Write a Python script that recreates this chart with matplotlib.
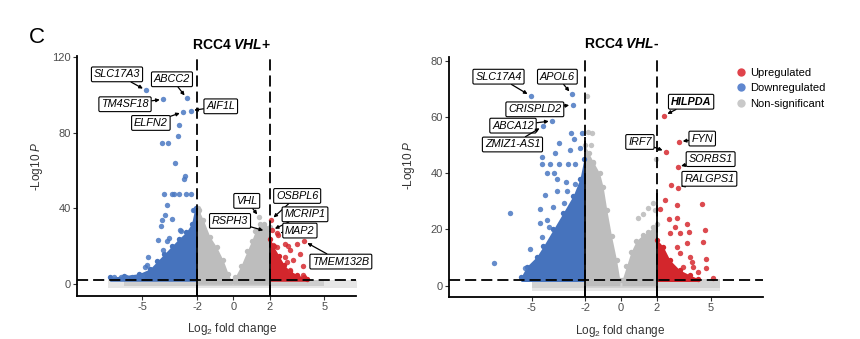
import matplotlib
matplotlib.use("Agg")
import matplotlib.pyplot as plt
from matplotlib.lines import Line2D

plt.rcParams['font.family'] = ['Liberation Sans', 'DejaVu Sans']
plt.rcParams['mathtext.fontset'] = 'custom'
plt.rcParams['mathtext.rm'] = 'Liberation Sans'
plt.rcParams['mathtext.it'] = 'Liberation Sans:italic'
plt.rcParams['mathtext.bf'] = 'Liberation Sans:bold'
plt.rcParams['mathtext.bfit'] = 'Liberation Sans:italic:bold'
plt.rcParams['lines.scale_dashes'] = False
plt.rcParams['axes.unicode_minus'] = False

# ---------------- data: RCC4 VHL+ ----------------
p_blue_x = [-4.81, -3.86, -2.57, -2.35, -2.77, -2.99, -3.03, -3.91, -3.58, -3.21, -2.66, -2.70,
            -3.80, -3.40, -3.25, -2.99, -2.63, -2.34, -3.67, -2.21, -3.76, -3.40, -3.95, -3.98,
            -2.88, -2.94, -3.53, -3.64, -4.13, -4.68, -4.77, -3.86, -4.86,
            -6.55, -6.20, -5.90, -5.60, -5.30, -5.00]
p_blue_y = [102.5, 97.7, 98.3, 91.7, 91.0, 84.0, 78.4, 74.6, 74.6, 63.8, 57.4, 55.6,
            47.7, 47.7, 47.7, 47.7, 47.7, 47.7, 41.6, 39.0, 36.3, 34.2, 33.7, 30.5,
            27.9, 28.4, 24.6, 22.6, 23.2, 14.4, 10.0, 17.9, 9.1,
            3.8, 3.6, 3.9, 3.7, 4.0, 4.3]
p_red_x = [2.06, 2.10, 2.41, 2.46, 2.19, 2.41, 2.83, 3.47, 3.10, 3.65, 2.83, 3.29, 2.92,
           3.84, 3.10, 3.80, 3.89, 3.00]
p_red_y = [34.0, 28.5, 27.0, 25.8, 20.5, 19.6, 21.4, 21.4, 17.9, 16.1, 14.4, 12.6, 11.7,
           9.5, 7.4, 4.7, 22.6, 20.0]
p_gray_x = [1.42, 1.82, -1.97, -1.93]
p_gray_y = [35.4, 27.9, 40.0, 38.0]
p_blue_env_x = [-6.8, -6.0, -5.2, -4.6, -4.2, -3.8, -3.4, -3.0, -2.6, -2.3, -2.15, -2.05]
p_blue_env_y = [3.5, 4.5, 5.5, 8.0, 12.0, 16.0, 20.0, 24.0, 27.5, 32.0, 39.0, 40.0]
p_red_env_x = [2.02, 2.2, 2.5, 2.8, 3.1, 3.5, 3.9, 4.05]
p_red_env_y = [24.0, 20.0, 15.0, 10.0, 7.0, 5.0, 3.5, 2.5]
p_grayL_env_x = [-2.02, -1.9, -1.66, -1.29, -0.92, -0.56, -0.29, -0.1]
p_grayL_env_y = [40.0, 39.0, 34.0, 25.0, 19.5, 12.5, 5.5, 1.5]
p_grayR_env_x = [0.0, 0.1, 0.4, 0.75, 1.0, 1.2, 1.45, 1.7, 1.98]
p_grayR_env_y = [1.5, 4.0, 9.5, 17.5, 23.0, 28.0, 32.0, 32.0, 30.0]
p_base_x = [-6.9, 6.77]
p_core_x = [-6.0, 5.0]
p_lab_names = ['SLC17A3', 'ABCC2', 'TM4SF18', 'AIF1L', 'ELFN2', 'VHL', 'OSBPL6',
               'RSPH3', 'MCRIP1', 'MAP2', 'TMEM132B']
p_lab_x = [-4.81, -2.57, -3.86, -2.35, -2.77, 1.42, 2.06, 1.82, 2.10, 2.41, 3.89]
p_lab_y = [102.5, 98.3, 97.7, 91.7, 91.0, 35.4, 34.0, 27.9, 28.5, 27.0, 22.6]

# ---------------- data: RCC4 VHL- ----------------
m_blue_x = [-5.06, -2.77, -2.71, -3.85, -4.39, -2.82, -2.18, -3.46, -2.64, -2.30, -2.88, -3.72,
            -4.42, -4.44, -3.96, -3.48, -2.96, -2.58, -4.16, -3.74, -3.08, -2.60, -4.26, -3.60,
            -4.54, -6.23, -3.79, -4.02, -5.08, -7.10, -5.35, -3.57, -3.04, -3.20, -4.54,
            -4.44, -4.16]
m_blue_y = [67.5, 68.1, 64.3, 58.6, 56.6, 54.3, 54.3, 50.9, 52.0, 48.9, 48.4, 47.3,
            45.9, 43.2, 43.2, 43.2, 43.4, 43.3, 40.2, 40.2, 36.7, 36.0, 32.3, 33.8,
            27.2, 25.9, 28.1, 21.0, 13.2, 7.9, 6.2, 37.9, 33.5, 29.3, 22.2,
            17.4, 23.4]
m_red_x = [2.41, 3.25, 2.50, 3.16, 2.77, 3.16, 2.45, 2.17, 3.10, 4.50, 2.68, 3.14, 3.68,
           4.66, 4.60, 4.74, 4.73, 5.15, 2.73, 3.28, 3.66, 3.84, 3.28, 3.47, 4.31, 3.10,
           3.00, 3.80, 3.94, 4.03]
m_red_y = [60.5, 51.2, 47.7, 42.3, 35.8, 34.9, 30.5, 27.2, 28.6, 29.1, 23.7, 24.0, 22.1,
           19.8, 15.5, 9.4, 6.2, 2.9, 18.6, 18.6, 15.1, 10.3, 11.5, 6.8, 5.0, 13.9,
           21.0, 19.2, 8.5, 6.8]
m_gray_x = [-1.93, -1.84, -1.65, -1.56, -1.70, -1.90, 1.94, 0.96, 1.20, 1.51, 1.76, 1.89]
m_gray_y = [67.5, 54.8, 54.2, 43.6, 50.0, 47.0, 45.0, 24.0, 25.5, 27.5, 29.5, 26.9]
m_blue_env_x = [-5.6, -5.28, -4.72, -4.35, -3.79, -3.23, -2.68, -2.3, -2.08]
m_blue_env_y = [3.0, 6.8, 10.3, 14.0, 20.0, 26.0, 32.0, 38.0, 45.0]
m_red_env_x = [2.02, 2.35, 2.73, 3.27, 3.84, 4.3]
m_red_env_y = [16.3, 13.9, 9.1, 5.6, 3.8, 2.5]
m_grayL_env_x = [-2.02, -1.8, -1.55, -1.2, -1.0, -0.8, -0.53, -0.25, -0.07]
m_grayL_env_y = [50.0, 47.0, 44.0, 40.0, 35.0, 27.0, 17.5, 9.0, 2.0]
m_grayR_env_x = [0.05, 0.3, 0.55, 0.85, 1.2, 1.5, 1.8, 1.98]
m_grayR_env_y = [2.0, 7.0, 12.0, 16.0, 18.0, 19.0, 21.0, 22.0]
m_base_x = [-5.0, 5.5]
m_core_x = [-5.0, 5.5]
m_lab_names = ['SLC17A4', 'APOL6', 'CRISPLD2', 'ABCA12', 'ZMIZ1-AS1', 'HILPDA', 'IRF7',
               'FYN', 'SORBS1', 'RALGPS1']
m_lab_x = [-5.06, -2.77, -2.71, -3.85, -4.39, 2.41, 2.50, 3.25, 3.16, 3.16]
m_lab_y = [67.5, 68.1, 64.3, 58.6, 56.6, 60.5, 47.7, 51.2, 42.3, 34.9]

x_ticks = [-5, -2, 0, 2, 5]
p_y_ticks = [0, 40, 80, 120]
m_y_ticks = [0, 20, 40, 60, 80]
fc_cut = 2
p_cut = 2
legend_labels = ['Upregulated', 'Downregulated', 'Non-significant']

# ---------------- styles / layout ----------------
RED, BLUE, GRAY = '#d62a30', '#4a78c2', '#bebebe'
RED_F, BLUE_F, GRAY_F = '#d3262c', '#4673bd', '#bdbdbd'
LEG = ['#e0434b', '#5f87cf', '#c9c9c9']
PT = 15

p_lab_pos = [(-6.4, 110.9), (-3.38, 108.3), (-5.96, 95.1), (-0.70, 94.0), (-4.54, 85.2),
             (0.73, 44.0), (3.5, 46.6), (-0.19, 33.4), (3.93, 36.9), (3.65, 28.3), (5.9, 11.9)]
m_lab_pos = [(-6.85, 74.3), (-3.56, 74.3), (-4.82, 62.7), (-6.04, 56.9), (-6.07, 50.2),
             (3.91, 65.4), (1.05, 51.1), (4.53, 52.3), (5.0, 45.0), (4.93, 38.0)]

fig = plt.figure(figsize=(8.6, 3.39), dpi=100)
axL = fig.add_axes([0.0895, 0.1268, 0.3244, 0.708])
axR = fig.add_axes([0.5224, 0.1248, 0.3651, 0.7071])


def draw(ax, d, xlim, ylim, yticks, lab_pos, solid_tops, title, tx, ty, band_col):
    ax.set_xlim(*xlim)
    ax.set_ylim(*ylim)
    # near-zero band of non-significant genes
    ax.fill_between(d['base'], -2.0, 2.2, color='#e6e6e6', lw=0, zorder=1)
    ax.fill_between(d['core'], -0.8, 2.4, color=band_col, lw=0, zorder=1.2)
    # dense clouds
    for ex, ey, c in [(d['gL'][0], d['gL'][1], GRAY_F), (d['gR'][0], d['gR'][1], GRAY_F),
                      (d['bE'][0], d['bE'][1], BLUE_F), (d['rE'][0], d['rE'][1], RED_F)]:
        ax.fill_between(ex, 0 if c == GRAY_F else 1.5, ey, color=c, lw=0, zorder=2)
        ax.scatter(ex, ey, s=PT, color=c, lw=0, zorder=2.1)
    ax.scatter(d['gray'][0], d['gray'][1], s=PT, color=GRAY, alpha=0.9, lw=0, zorder=3)
    ax.scatter(d['blue'][0], d['blue'][1], s=PT, color=BLUE, alpha=0.85, lw=0, zorder=3)
    ax.scatter(d['red'][0], d['red'][1], s=PT, color=RED, alpha=0.85, lw=0, zorder=3)
    # thresholds
    dash = (0, (8.0, 3.6))
    for xv in (-fc_cut, fc_cut):
        ax.axvline(xv, color='black', lw=1.3, linestyle=dash, zorder=4)
    ax.vlines([-fc_cut, fc_cut], ylim[0], solid_tops, color='black', lw=1.3, zorder=4)
    ax.axhline(p_cut, color='black', lw=1.3, linestyle=dash, zorder=4)
    # labels
    for name, px, py, pos in zip(d['names'], d['lx'], d['ly'], lab_pos):
        ax.annotate(name, xy=(px, py), xytext=pos, ha='center', va='center',
                    fontsize=7.8, fontstyle='italic',
                    fontweight='bold' if name == 'HILPDA' else 'normal',
                    bbox=dict(boxstyle='round,pad=0.22,rounding_size=0.12', fc='white',
                              ec='black', lw=0.8),
                    arrowprops=dict(arrowstyle='-|>', color='black', lw=0.9,
                                    mutation_scale=5, shrinkA=0, shrinkB=2.5),
                    annotation_clip=False, zorder=10)
    # axes style
    for s in ('top', 'right'):
        ax.spines[s].set_visible(False)
    for s in ('left', 'bottom'):
        ax.spines[s].set_linewidth(1.3)
    ax.set_xticks(x_ticks)
    ax.set_yticks(yticks)
    ax.tick_params(direction='out', length=3, width=0.8, color='#333333',
                   labelsize=8, labelcolor='#4d4d4d', pad=1.5)
    ax.set_xlabel(r'Log$_2$ fold change', fontsize=8.5, color='#333333')
    ax.set_ylabel(r'-Log10 $\mathit{P}$', fontsize=8.5, color='#333333')
    ax.text(tx, ty, title, transform=ax.transAxes, ha='center', va='center',
            fontsize=10, fontweight='bold')


pdat = dict(base=p_base_x, core=p_core_x, gL=(p_grayL_env_x, p_grayL_env_y),
            gR=(p_grayR_env_x, p_grayR_env_y), bE=(p_blue_env_x, p_blue_env_y),
            rE=(p_red_env_x, p_red_env_y), gray=(p_gray_x, p_gray_y),
            blue=(p_blue_x, p_blue_y), red=(p_red_x, p_red_y),
            names=p_lab_names, lx=p_lab_x, ly=p_lab_y)
mdat = dict(base=m_base_x, core=m_core_x, gL=(m_grayL_env_x, m_grayL_env_y),
            gR=(m_grayR_env_x, m_grayR_env_y), bE=(m_blue_env_x, m_blue_env_y),
            rE=(m_red_env_x, m_red_env_y), gray=(m_gray_x, m_gray_y),
            blue=(m_blue_x, m_blue_y), red=(m_red_x, m_red_y),
            names=m_lab_names, lx=m_lab_x, ly=m_lab_y)

draw(axL, pdat, (-8.6, 6.73), (-6.3, 120.6), p_y_ticks, p_lab_pos, [40, 28],
     r'RCC4 $\mathbfit{VHL}$+', 0.554, 1.047, '#cdcdcd')
draw(axR, mdat, (-9.6, 7.94), (-3.9, 81.3), m_y_ticks, m_lab_pos, [53, 33],
     r'RCC4 $\mathbfit{VHL}$-', 0.548, 1.054, '#d2d2d2')

axL.xaxis.set_label_coords(0.557, -0.105)
axL.yaxis.set_label_coords(-0.115, 0.54)
axR.xaxis.set_label_coords(0.544, -0.108)
axR.yaxis.set_label_coords(-0.103, 0.55)

fig.text(0.043, 0.888, 'C', fontsize=16, ha='center', va='center')

handles = [Line2D([], [], marker='o', linestyle='none', markersize=6, color=c,
                  markeredgewidth=0) for c in LEG]
fig.legend(handles, legend_labels, loc='upper left', bbox_to_anchor=(0.857, 0.8),
           frameon=False, fontsize=8, labelspacing=0.5, handlelength=0.8,
           handletextpad=0.35, borderpad=0, borderaxespad=0)

fig.savefig('out.png', dpi=100)
